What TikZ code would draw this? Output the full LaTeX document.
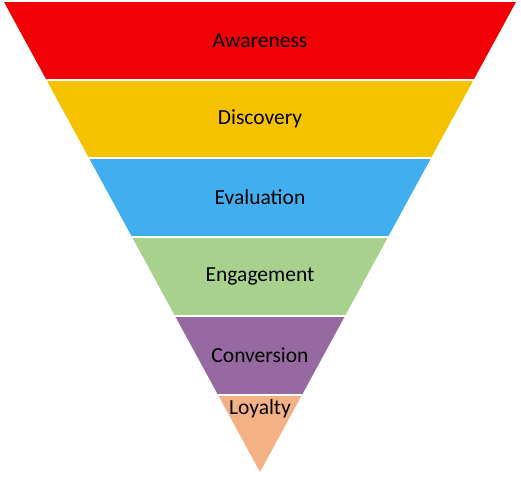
\documentclass[tikz,border=0pt]{standalone}
\usepackage{fontspec}
\setmainfont{Carlito}
\definecolor{aware}{HTML}{F10006}
\definecolor{disco}{HTML}{F6C200}
\definecolor{evalu}{HTML}{41AFEF}
\definecolor{engage}{HTML}{A9D18E}
\definecolor{conv}{HTML}{9669A0}
\definecolor{loyal}{HTML}{F4B183}

\begin{document}
\begin{tikzpicture}[x=1pt,y=-1pt,font=\fontsize{21.5}{24}\selectfont]
\tikzset{stage/.style={text=black,inner sep=0pt}}
\useasboundingbox (0,0) rectangle (521,476);

% funnel bands, cut to the triangle
\begin{scope}
  \clip (4,2)--(516,2)--(260,472)--cycle;
  \foreach \top/\bot/\col in {2/80/aware,80/158/disco,158/237/evalu,237/316/engage,316/395/conv,395/472/loyal}{
    \fill[\col] (0,\top) rectangle (521,\bot);
  }
  \foreach \y in {80,158,237,316,395}{
    \draw[white,line width=1.2pt] (0,\y)--(521,\y);
  }
\end{scope}

\node[stage] (awareness) at (260,41) {Awareness};
\node[stage] (discovery) at (260,119) {Discovery};
\node[stage] (evaluation) at (260,197) {Evaluation};
\node[stage] (engagement) at (260,276) {Engagement};
\node[stage] (conversion) at (260,355) {Conversion};
\node[stage] (loyalty) at (260,409) {Loyalty};
\end{tikzpicture}
\end{document}
